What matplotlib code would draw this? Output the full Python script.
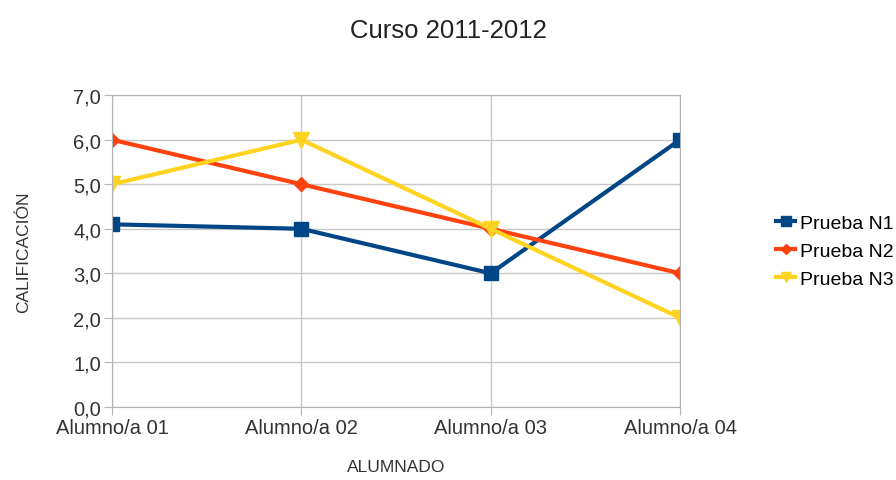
import matplotlib
matplotlib.use("Agg")
import matplotlib.pyplot as plt

# datos del gráfico
alumnos = ["Alumno/a 01", "Alumno/a 02", "Alumno/a 03", "Alumno/a 04"]
prueba_n1 = [4.1, 4.0, 3.0, 6.0]
prueba_n2 = [6.0, 5.0, 4.0, 3.0]
prueba_n3 = [5.0, 6.0, 4.0, 2.0]
y_ticks = [0, 1, 2, 3, 4, 5, 6, 7]

plt.rcParams['font.family'] = ['Liberation Sans', 'DejaVu Sans']

fig = plt.figure(figsize=(8.96, 4.81), dpi=100)
ax = fig.add_axes([0.125, 0.152, 0.634, 0.648])

x = list(range(len(alumnos)))
ax.plot(x, prueba_n1, color='#004586', lw=3, marker='s', ms=10, label='Prueba N1')
ax.plot(x, prueba_n2, color='#ff420e', lw=3, marker='D', ms=7, label='Prueba N2')
ax.plot(x, prueba_n3, color='#ffd320', lw=3, marker='v', ms=11, label='Prueba N3')

ax.set_xlim(0, len(alumnos) - 1)
ax.set_ylim(0, 7)
ax.set_xticks(x)
ax.set_xticklabels(alumnos, fontsize=14.5, color='#333333')
ax.set_yticks(y_ticks)
ax.set_yticklabels([f"{v:.1f}".replace('.', ',') for v in y_ticks], fontsize=14.5, color='#333333')
ax.grid(True, color='#c8c8c8', lw=1)
ax.set_axisbelow(True)
for sp in ax.spines.values():
    sp.set_color('#b3b3b3')
ax.tick_params(axis='both', color='#b3b3b3', length=6, pad=2)

ax.set_xlabel("ALUMNADO", fontsize=12.5, color='#333333', labelpad=16)
ax.set_ylabel("CALIFICACIÓN", fontsize=12.5, color='#333333', labelpad=30)
fig.suptitle("Curso 2011-2012", fontsize=18.5, y=0.96, color='#222222')

leg = ax.legend(loc='center left', bbox_to_anchor=(1.155, 0.5), frameon=False,
                fontsize=14, handlelength=1.0, handletextpad=0.25, labelspacing=0.55,
                markerscale=0.7, borderaxespad=0)

fig.savefig("out.png", dpi=100)
